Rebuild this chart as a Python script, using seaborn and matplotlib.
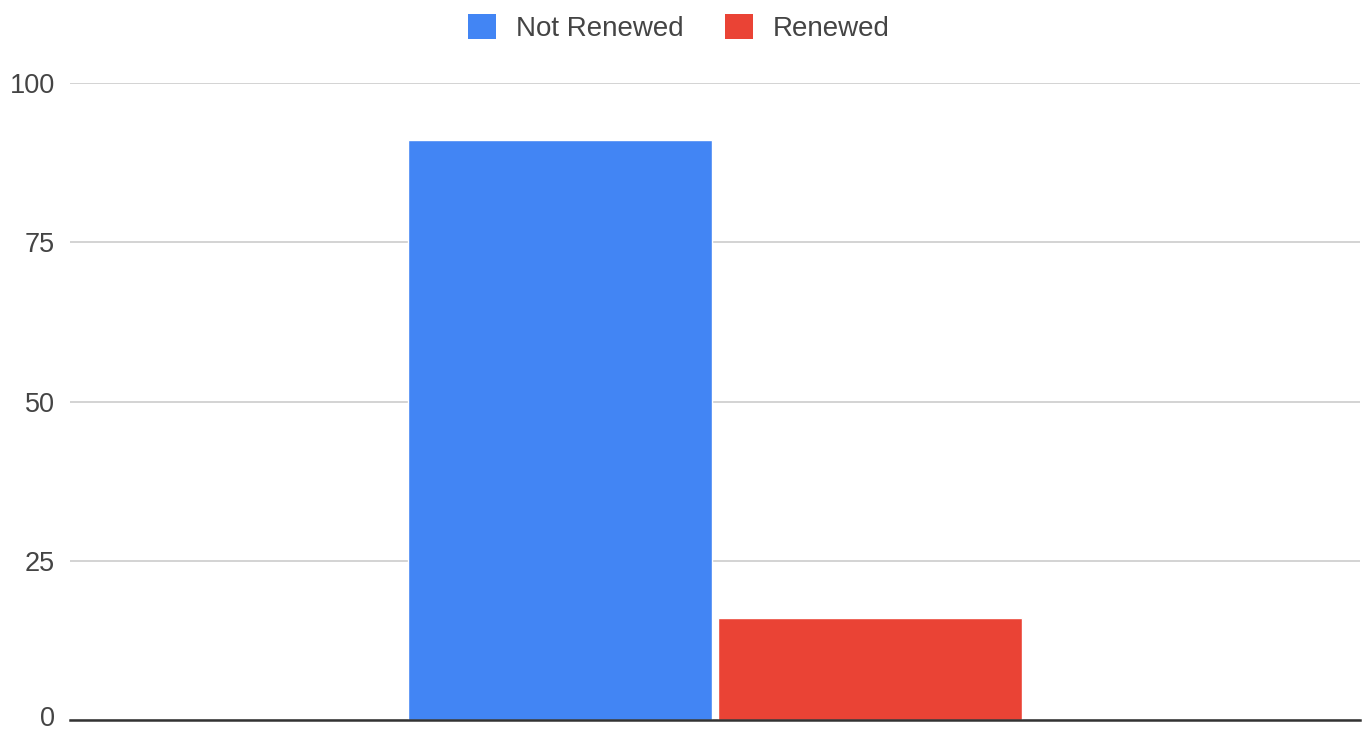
import numpy as np
import pandas as pd
import matplotlib
matplotlib.use('Agg')
import matplotlib.pyplot as plt
import matplotlib.transforms as mtransforms
import seaborn as sns
from matplotlib.patches import Patch

# data
categories = ['Not Renewed', 'Renewed']
counts = [91, 16]
colors = ['#4285F4', '#EA4335']

df = pd.DataFrame({'group': ['all', 'all'], 'status': categories, 'count': counts})

sns.set_style('white')
plt.rcParams['font.family'] = ['Liberation Sans', 'DejaVu Sans']

fig = plt.figure(figsize=(13.66, 7.31), dpi=100)
ax = fig.add_axes([70/1366, 1 - 720/731, 1290/1366, (720 - 83)/731])

sns.barplot(data=df, x='group', y='count', hue='status', palette=colors,
            width=0.48, gap=0.02, saturation=1, ax=ax, legend=False)

ax.set_ylim(0, 100)
ax.set_xlim(-0.5, 0.5)
ax.set_yticks([0, 25, 50, 75, 100])
ax.set_yticklabels(['0', '25', '50', '75', '100'])
ax.tick_params(axis='y', labelsize=19.5, colors='#444444', length=0, pad=11)
ax.set_xticks([])
ax.set_xlabel('')
ax.set_ylabel('')
ax.yaxis.grid(True, color='#cccccc', linewidth=1.2)
ax.set_axisbelow(True)
for s in ['top', 'right', 'left']:
    ax.spines[s].set_visible(False)
ax.spines['bottom'].set_color('#333333')
ax.spines['bottom'].set_linewidth(1.8)
ax.spines['bottom'].set_zorder(5)

# nudge the "0" label up a little so it stays inside the figure
zero_lbl = ax.get_yticklabels()[0]
zero_lbl.set_transform(zero_lbl.get_transform() +
                       mtransforms.ScaledTranslation(0, 3/72, fig.dpi_scale_trans))

handles = [Patch(facecolor=c, edgecolor='none') for c in colors]
fig.legend(handles, categories, loc='upper center', ncol=2, frameon=False,
           fontsize=20, bbox_to_anchor=(0.497, 1.015), handlelength=1.0,
           handleheight=1.0, handletextpad=0.72, columnspacing=1.5,
           labelcolor='#444444')

fig.savefig('out.png', dpi=100)
